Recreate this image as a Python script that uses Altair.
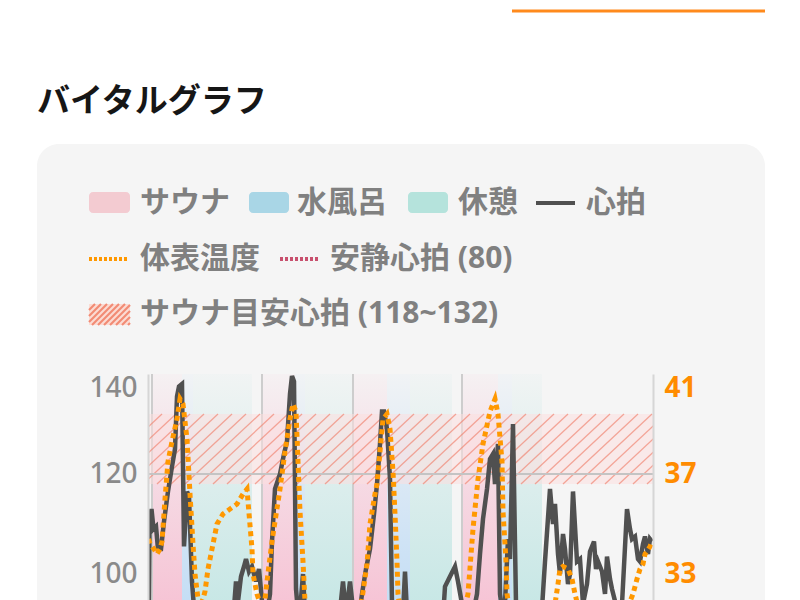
import altair as alt
import pandas as pd
import numpy as np

FONT = "Noto Sans CJK JP"
MIX_FONT = "Noto Sans, Noto Sans CJK JP"
NUM_FONT = "Noto Sans"

# ---------------- data ----------------
title_text = "バイタルグラフ"
legend_labels = ["サウナ", "水風呂", "休憩", "心拍", "体表温度", "安静心拍 (80)", "サウナ目安心拍 (118~132)"]

# heart rate (minutes, bpm)
hr_t = [0.1, 0.3, 0.7, 1.1, 1.6, 2.0, 2.6, 3.2, 4.0, 4.8,
        5.4, 5.8, 6.2, 6.8, 7.2, 7.8, 8.2, 8.8, 9.6, 10.8,
        12.4, 14.0, 15.6, 16.8, 17.6, 18.0, 18.6, 19.2, 19.6, 20.2,
        20.8, 21.6, 22.2, 22.8, 23.6, 24.4, 24.8, 25.4, 26.4, 27.2,
        27.8, 28.4, 28.8, 29.2, 29.6, 30.2, 31.0, 31.6, 32.8, 34.4,
        36.0, 37.6, 39.0, 39.6, 40.4, 41.0, 42.0, 42.8, 43.6, 44.4,
        45.2, 45.8, 46.4, 46.8, 47.2, 47.8, 48.4, 48.8, 49.6, 50.8,
        51.4, 52.0, 53.4, 55.4, 57.4, 58.8, 59.4, 60.4, 61.4, 62.0,
        62.8, 64.0, 65.0, 65.8, 66.4, 67.0, 67.8, 68.4, 69.0, 69.4,
        70.0, 70.4, 71.2, 72.0, 72.4, 73.0, 73.6, 74.4, 76.0, 77.6,
        78.6, 79.4, 80.4, 81.0, 81.4, 82.0, 82.4, 83.0, 83.4, 84.0,
        84.4, 85.0, 85.8, 86.4, 87.0, 87.8, 88.4, 89.2, 89.6, 90.0,
        90.8, 91.4, 91.8, 92.4, 92.8, 93.8, 94.8, 95.8, 96.4, 96.8,
        97.4, 98.0, 98.4, 99.0, 99.4, 100.0, 100.4, 100.8]
hr_v = [86, 110, 113, 109, 109.5, 105, 105, 110.5, 116.5, 121.5,
        125, 135.5, 137.5, 138, 105.5, 116.5, 115.5, 98.5, 88, 84,
        85, 83, 86, 88, 98.5, 94.5, 99.5, 101.5, 103, 100.5,
        101.5, 98.5, 101, 94.5, 91, 96, 106.5, 117, 120, 124,
        126.5, 136, 139.6, 138.5, 97, 90, 100, 88, 82, 84,
        81, 85, 98.5, 92, 98.5, 93, 90, 96, 101, 105,
        112, 118, 126, 132.5, 132.5, 129, 119, 94, 86, 88,
        100.5, 88, 82, 84, 83, 88, 97.5, 99.5, 101.5, 98.5,
        94, 88, 92, 96, 104, 111, 117, 123, 124, 118,
        126, 96, 90, 107, 103, 130, 94, 86, 84, 86,
        90, 102.5, 117, 110, 114, 104, 100, 108, 105, 98,
        100, 116.5, 102.5, 103, 94, 98, 104.5, 106.5, 101, 102.5,
        100.5, 96, 103.5, 99, 97, 93, 94, 113, 109, 107,
        107.5, 103, 102.5, 106, 107.5, 104, 107, 106.5]

# skin temperature (minutes, deg C)
temp_t = [0.1, 0.4, 1.2, 1.8, 2.4, 2.8, 3.4, 4.0, 4.8, 5.8,
          6.4, 7.0, 7.8, 8.4, 9.0, 9.4, 10.0, 10.4, 11.0, 11.4,
          12.0, 12.8, 13.8, 15.0, 16.4, 17.8, 19.0, 19.8, 20.0, 20.8,
          21.0, 21.8, 22.8, 23.4, 23.8, 24.8, 25.4, 26.4, 27.4, 28.4,
          29.0, 29.6, 30.0, 30.4, 31.0, 31.4, 32.4, 34.4, 37.4, 40.4,
          42.0, 42.8, 43.8, 44.4, 45.4, 45.8, 46.4, 47.0, 47.8, 48.4,
          49.0, 49.4, 49.8, 50.0, 50.8, 53.4, 56.4, 60.4, 62.8, 64.0,
          65.0, 66.0, 67.0, 68.4, 69.4, 70.0, 70.8, 71.0, 71.6, 71.8,
          72.8, 75.4, 79.4, 81.4, 82.0, 82.4, 83.0, 84.0, 84.8, 85.4,
          86.4, 89.4, 93.4, 95.8, 96.4, 97.0, 97.8, 98.4, 99.0, 99.4,
          99.8, 100.4, 100.8]
temp_v = [34.4, 34.2, 34.0, 33.8, 34.0, 34.3, 36.0, 37.5, 38.3, 39.2,
          40.0, 39.8, 38.4, 36.2, 34.2, 33.0, 32.0, 31.7, 32.0, 32.3,
          33.2, 34.0, 35.0, 35.4, 35.6, 35.8, 36.2, 36.4, 35.9, 34.0,
          33.0, 32.2, 31.6, 32.0, 32.7, 34.3, 35.1, 36.4, 37.9, 39.2,
          39.8, 39.5, 37.5, 35.5, 33.5, 31.9, 30.6, 30.2, 30.3, 30.8,
          31.4, 32.0, 33.4, 35.0, 36.2, 36.6, 37.9, 39.2, 39.4, 38.8,
          37.1, 35.4, 33.5, 32.2, 31.0, 30.4, 30.2, 30.5, 31.2, 32.2,
          34.8, 36.8, 38.2, 39.5, 40.0, 39.4, 37.5, 35.5, 33.5, 32.2,
          31.0, 30.5, 30.8, 31.8, 32.6, 33.2, 33.3, 33.2, 32.8, 32.2,
          31.4, 30.8, 30.6, 31.2, 31.9, 32.2, 32.8, 33.2, 33.4, 33.8,
          33.9, 34.1, 34.3]

# phases
phase_start = [0.8, 6.8, 9.0, 22.8, 29.4, 31.4, 41.0, 47.8, 52.4, 62.8, 70.0, 72.8]
phase_end = [6.8, 9.0, 20.8, 29.4, 31.4, 41.0, 47.8, 52.4, 60.8, 70.0, 72.8, 78.8]
phase_kind = ["サウナ", "水風呂", "休憩"] * 4
set_starts = [0.8, 22.8, 41.0, 62.8]

resting_hr = [80]
grid_hr = [120]
target_lo, target_hi = [118], [132]
hr_ticks = [100, 120, 140]
temp_ticks = [33, 37, 41]

# ---------------- layout ----------------
W, H = 505, 260
X_DOM = [0, 101]
HR_DOM = [88, 140]
TEMP_DOM = [30.6, 41]

GRAY_TXT = "#808080"
ORANGE = "#ff9800"
HR_COL = "#505050"
REST_COL = "#c8506e"

one = pd.DataFrame({"k": [0]})
xs = alt.Scale(domain=X_DOM, nice=False, zero=False)
hrs = alt.Scale(domain=HR_DOM, nice=False, zero=False)
tps = alt.Scale(domain=TEMP_DOM, nice=False, zero=False)

hr_axis = alt.Axis(values=hr_ticks, title=None, orient="left", grid=False, ticks=False,
                   tickSize=0, labelPadding=11, labelFlush=True, labelFont=NUM_FONT,
                   labelFontSize=28, labelColor="#8a8a8a", labelFontWeight=500,
                   domainColor="#d6d6d6", domainWidth=2, zindex=1)
temp_axis = alt.Axis(values=temp_ticks, title=None, orient="right", grid=False, ticks=False,
                     tickSize=0, labelPadding=11, labelFlush=True, labelFont=NUM_FONT,
                     labelFontSize=28, labelColor="#ff8c00", labelFontWeight="bold",
                     domainColor="#d6d6d6", domainWidth=2, zindex=1)


def vrect(x1, x2, y1, y2, **kw):
    return alt.Chart(one).mark_rect(**kw).encode(
        x=alt.value(x1), x2=alt.value(x2), y=alt.value(y1), y2=alt.value(y2))


def vseg(x1, y1, x2, y2, **kw):
    return alt.Chart(one).mark_rule(**kw).encode(
        x=alt.value(x1), y=alt.value(y1), x2=alt.value(x2), y2=alt.value(y2))


def vtext(x, y, s, size=30, color=GRAY_TXT, weight="bold", font=MIX_FONT):
    return alt.Chart(one).mark_text(align="left", baseline="middle", font=font,
                                    fontSize=size, fontWeight=weight, color=color).encode(
        x=alt.value(x), y=alt.value(y), text=alt.value(s))


deco = []
deco.append(vrect(-140, 622, -366, H + 30, fill="white", strokeWidth=0))
deco.append(vrect(-111, 617, -230, H + 30, fill="#f5f5f5", strokeWidth=0, cornerRadius=22))
deco.append(vseg(364, -363, 617, -363, color="#ff8a1c", strokeWidth=3))
deco.append(vtext(-111, -272, title_text, size=33, color="#161616", font=FONT))

# legend row 1
r1, r2, r3 = -171, -115, -60
deco.append(vrect(-59, -18, r1 - 11, r1 + 10, fill="#f3cbd1", cornerRadius=4))
deco.append(vtext(-8, r1, legend_labels[0]))
deco.append(vrect(101, 141, r1 - 11, r1 + 10, fill="#a9d6e6", cornerRadius=4))
deco.append(vtext(149, r1, legend_labels[1]))
deco.append(vrect(260, 300, r1 - 11, r1 + 10, fill="#b5e3dc", cornerRadius=4))
deco.append(vtext(310, r1, legend_labels[2]))
deco.append(vseg(388, r1, 427, r1, color=HR_COL, strokeWidth=4))
deco.append(vtext(438, r1, legend_labels[3]))
# row 2
deco.append(vseg(-59, r2, -19, r2, color=ORANGE, strokeWidth=4, strokeDash=[3, 2]))
deco.append(vtext(-8, r2, legend_labels[4]))
deco.append(vseg(132, r2, 172, r2, color=REST_COL, strokeWidth=4, strokeDash=[3, 2]))
deco.append(vtext(182, r2, legend_labels[5]))
# row 3 hatch swatch
L, R, T, B = -59, -18, r3 - 10, r3 + 11
deco.append(vrect(L, R, T, B, fill="#fbdcd4"))
hgt = B - T
for x0 in range(L - hgt, R, 6):
    xa, ya = x0, B
    xb, yb = x0 + hgt, T
    if xa < L:
        ya = B - (L - x0)
        xa = L
    if xb > R:
        yb = B - (R - x0)
        xb = R
    if xa < xb:
        deco.append(vseg(xa, ya, xb, yb, color="#f28b74", strokeWidth=2.2))
deco.append(vtext(-8, r3, legend_labels[6]))

# phases with vertical gradients
phase_df = pd.DataFrame({"start": phase_start, "end": phase_end, "kind": phase_kind})
phase_rgb = {"サウナ": (246, 188, 208), "水風呂": (188, 218, 245), "休憩": (192, 229, 227)}


def grad(rgb):
    r, g, b = rgb
    return {"gradient": "linear", "x1": 0, "y1": 0, "x2": 0, "y2": 1,
            "stops": [{"offset": 0, "color": f"rgba({r},{g},{b},0.08)"},
                      {"offset": 0.45, "color": f"rgba({r},{g},{b},0.5)"},
                      {"offset": 0.87, "color": f"rgba({r},{g},{b},0.85)"},
                      {"offset": 1, "color": f"rgba({r},{g},{b},0.9)"}]}


phases = []
for kind, rgb in phase_rgb.items():
    phases.append(
        alt.Chart(phase_df[phase_df["kind"] == kind]).mark_rect(fill=grad(rgb), strokeWidth=0).encode(
            x=alt.X("start:Q", scale=xs, axis=None), x2="end:Q",
            y=alt.value(0), y2=alt.value(H)))

set_rules = alt.Chart(pd.DataFrame({"t": set_starts})).mark_rule(color="#cdcdcd", strokeWidth=2).encode(
    x=alt.X("t:Q", scale=xs, axis=None), y=alt.value(0), y2=alt.value(H))

# HR-scale layers
band = alt.Chart(pd.DataFrame({"lo": target_lo, "hi": target_hi})).mark_rect(
    fill="#fbdede", opacity=0.55).encode(
    x=alt.value(0), x2=alt.value(W),
    y=alt.Y("lo:Q", scale=hrs, axis=hr_axis), y2="hi:Q")

hx0 = np.arange(-15, 101, 2.8)
hatch_df = pd.DataFrame({"x0": hx0, "x1": hx0 + 15,
                         "y0": target_lo * len(hx0), "y1": target_hi * len(hx0)})
hatch = alt.Chart(hatch_df).mark_rule(clip=True, color="#ef7f6b", strokeWidth=1.3, opacity=0.65).encode(
    x=alt.X("x0:Q", scale=xs, axis=None), x2="x1:Q",
    y=alt.Y("y0:Q", scale=hrs, axis=hr_axis), y2="y1:Q")

grid = alt.Chart(pd.DataFrame({"v": grid_hr})).mark_rule(color="#c4c4c4", strokeWidth=2).encode(
    x=alt.value(0), x2=alt.value(W), y=alt.Y("v:Q", scale=hrs, axis=hr_axis))

rest = alt.Chart(pd.DataFrame({"v": resting_hr})).mark_rule(
    color=REST_COL, strokeWidth=3, strokeDash=[3, 2]).encode(
    x=alt.value(0), x2=alt.value(W), y=alt.Y("v:Q", scale=hrs, axis=hr_axis))

hr_line = alt.Chart(pd.DataFrame({"t": hr_t, "hr": hr_v})).mark_line(
    color=HR_COL, strokeWidth=4.5, clip=True).encode(
    x=alt.X("t:Q", scale=xs, axis=None), y=alt.Y("hr:Q", scale=hrs, axis=hr_axis))

hr_group = alt.layer(band, hatch, grid, rest, hr_line)

temp_line = alt.Chart(pd.DataFrame({"t": temp_t, "temp": temp_v})).mark_line(
    color=ORANGE, strokeWidth=5, strokeDash=[5, 4], clip=True).encode(
    x=alt.X("t:Q", scale=xs, axis=None), y=alt.Y("temp:Q", scale=tps, axis=temp_axis))

chart = alt.layer(*deco, *phases, set_rules, hr_group, temp_line).resolve_scale(
    y="independent"
).properties(width=W, height=H, padding=0, background="white").configure_view(strokeWidth=0)

chart.save("out.html", embed_options={"renderer": "svg", "actions": False})
